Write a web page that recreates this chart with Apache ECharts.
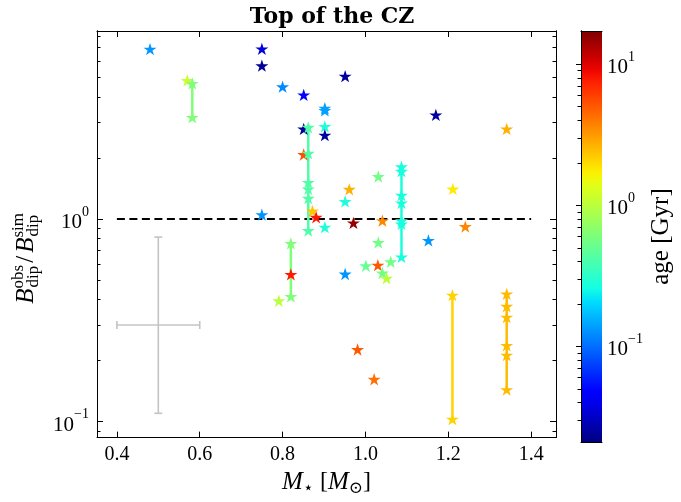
<!DOCTYPE html>
<html>
<head>
<meta charset="utf-8">
<script src="https://cdn.jsdelivr.net/npm/echarts@6/dist/echarts.min.js"></script>
<style>
  html, body { margin: 0; padding: 0; background: #fff; }
  #chart { width: 681px; height: 502px; }
</style>
</head>
<body>
<div id="chart"></div>
<script>
// stars with a single measurement
const massSingle = [0.48, 0.75, 0.75, 0.570, 0.80, 0.851, 0.951, 0.902, 0.902, 0.902, 0.902, 0.851, 0.851,
  1.170, 1.341, 1.031, 0.961, 0.951, 1.211, 0.872, 0.881, 0.75, 0.902, 0.971, 1.041, 1.241, 1.152,
  1.031, 0.82, 0.791, 1.001, 1.030, 1.061, 1.041, 1.051, 0.951, 0.981, 1.021]
const ratioSingle = [6.88, 6.9, 5.70, 4.82, 4.49, 4.09, 5.06, 3.52, 3.43, 2.86, 2.59, 2.78, 2.08,
  3.26, 2.78, 1.62, 1.40, 1.22, 1.406, 1.094, 1.02, 1.05, 0.911, 0.956, 0.981, 0.917, 0.784,
  0.766, 0.533, 0.395, 0.588, 0.592, 0.615, 0.541, 0.510, 0.535, 0.227, 0.162]
const ageSingle = [0.13, 0.035, 0.024, 1.1, 0.12, 0.05, 0.025, 0.14, 0.14, 0.28, 0.025, 0.025, 5.3,
  0.025, 2.7, 0.55, 2.7, 0.28, 1.8, 2.3, 8, 0.13, 0.28, 15, 3.6, 3.6, 0.13,
  0.55, 8, 1.0, 0.5, 5.0, 0.55, 0.55, 1.0, 0.13, 5.0, 4.3]

// stars with several measurements, joined by a line
const massGroup = [0.582, 0.820, 0.862, 1.087, 1.21, 1.341]
const ageGroup = [0.62, 0.62, 0.42, 0.27, 2.1, 2.5]
const ratioGroup = [
  [4.66, 3.17],
  [0.758, 0.415],
  [2.83, 2.11, 1.515, 1.406, 1.266, 0.877],
  [1.81, 1.72, 1.31, 1.20, 0.98, 0.945, 0.65],
  [0.421, 0.103],
  [0.427, 0.371, 0.328, 0.238, 0.213, 0.144]
]

// typical error bar
const errCentre = [0.5, 0.3]
const errMass = [0.4, 0.6]
const errRatio = [0.11, 0.814]

// reference line B_obs / B_sim = 1
const refMass = [0.4, 1.4]
const refRatio = [1, 1]

// axes
const xRange = [0.352, 1.46]
const yRange = [0.0835, 8.45]
const xTicks = [0.4, 0.6, 0.8, 1.0, 1.2, 1.4]
const yTicks = [0.1, 1]
const yMinor = [0.09, 0.2, 0.3, 0.4, 0.5, 0.6, 0.7, 0.8, 0.9, 2, 3, 4, 5, 6, 7, 8]
const ageRange = [0.021, 17.2]
const cbTicks = [0.1, 1, 10]
const cbMinor = [0.03, 0.04, 0.05, 0.06, 0.07, 0.08, 0.09, 0.2, 0.3, 0.4, 0.5, 0.6, 0.7, 0.8, 0.9,
  2, 3, 4, 5, 6, 7, 8, 9]

const FONT = 'Liberation Serif, DejaVu Serif, serif'
const STAR = 'path://M50,0L61.23,34.55L97.55,34.55L68.17,55.9L79.39,90.45L50,69.1L20.61,90.45L31.83,55.9L2.45,34.55L38.77,34.55Z'

// matplotlib 'jet'
function interp(f, xs, ys) {
  for (let i = 1; i < xs.length; i++) {
    if (f <= xs[i]) {
      return ys[i - 1] + (ys[i] - ys[i - 1]) * (f - xs[i - 1]) / (xs[i] - xs[i - 1])
    }
  }
  return ys[ys.length - 1]
}
function jet(f) {
  f = Math.max(0, Math.min(1, f))
  const r = interp(f, [0, 0.35, 0.66, 0.89, 1], [0, 0, 1, 1, 0.5])
  const g = interp(f, [0, 0.125, 0.375, 0.64, 0.91, 1], [0, 0, 1, 1, 0, 0])
  const b = interp(f, [0, 0.11, 0.34, 0.65, 1], [0.5, 1, 1, 0, 0])
  return 'rgb(' + Math.round(r * 255) + ',' + Math.round(g * 255) + ',' + Math.round(b * 255) + ')'
}
function ageColor(age) {
  const lo = Math.log10(ageRange[0])
  const hi = Math.log10(ageRange[1])
  return jet((Math.log10(age) - lo) / (hi - lo))
}

function powLabel(v) {
  const e = Math.round(Math.log10(v))
  return '{b|10}{e|' + (e < 0 ? '\u2212' + (-e) : e) + '}'
}
const powRich = {
  b: { fontFamily: FONT, fontSize: 21, color: '#000', lineHeight: 28, verticalAlign: 'bottom' },
  e: { fontFamily: FONT, fontSize: 14, color: '#000', lineHeight: 14, verticalAlign: 'top' }
}

// scatter points
const stars = []
for (let i = 0; i < massSingle.length; i++) {
  stars.push({ value: [massSingle[i], ratioSingle[i]], itemStyle: { color: ageColor(ageSingle[i]) } })
}
const groupLines = []
for (let i = 0; i < massGroup.length; i++) {
  const col = ageColor(ageGroup[i])
  const pts = ratioGroup[i].map(function (r) { return [massGroup[i], r] })
  groupLines.push({
    type: 'line',
    data: pts,
    symbol: 'none',
    z: 2,
    lineStyle: { color: col, width: 2.5 },
    silent: true
  })
  pts.forEach(function (p) {
    stars.push({ value: p, itemStyle: { color: col } })
  })
}

// colour bar gradient
const cbStops = []
for (let i = 0; i <= 32; i++) {
  cbStops.push({ offset: i / 32, color: jet(i / 32) })
}

const axisLineBlack = { show: true, lineStyle: { color: '#000', width: 1 } }

function mainY(position, ticks, len, labels) {
  return {
    type: 'log', gridIndex: 0, position: position, min: yRange[0], max: yRange[1],
    axisLine: axisLineBlack,
    axisTick: { show: true, inside: true, length: len, customValues: ticks, lineStyle: { color: '#000' } },
    axisLabel: labels ? { show: true, customValues: ticks, formatter: powLabel, rich: powRich, margin: 8 } : { show: false },
    splitLine: { show: false }
  }
}
function mainX(position, labels) {
  return {
    type: 'value', gridIndex: 0, position: position, min: xRange[0], max: xRange[1],
    axisLine: axisLineBlack,
    axisTick: { show: true, inside: true, length: 6, customValues: xTicks, lineStyle: { color: '#000' } },
    axisLabel: labels ? {
      show: true, customValues: xTicks, formatter: function (v) { return v.toFixed(1) },
      fontFamily: FONT, fontSize: 20, color: '#000', margin: 7
    } : { show: false },
    splitLine: { show: false }
  }
}

const chart = echarts.init(document.getElementById('chart'))
const yLeft = mainY('left', yTicks, 6, true)
// sup gets a 1px box so the subscript sits right under it
yLeft.name = '{it|B}{sup|obs}{sub|dip}{n|/}{it|B}{sup|sim}{sub|dip}'
yLeft.nameLocation = 'middle'
yLeft.nameRotate = 90
yLeft.nameGap = 42
yLeft.nameTextStyle = {
  padding: [0, 50, 0, 0],
  rich: {
    it: { fontFamily: FONT, fontStyle: 'italic', fontSize: 25, color: '#000', lineHeight: 32, verticalAlign: 'middle', align: 'left' },
    n: { fontFamily: FONT, fontSize: 25, color: '#000', lineHeight: 32, verticalAlign: 'middle', padding: [0, 3, 0, 3], align: 'left' },
    sup: { fontFamily: FONT, fontSize: 17, color: '#000', lineHeight: 16, verticalAlign: 'top', width: 1, align: 'left' },
    sub: { fontFamily: FONT, fontSize: 17, color: '#000', lineHeight: 16, verticalAlign: 'bottom', align: 'left' }
  }
}
const xBottom = mainX('bottom', true)
xBottom.name = '{it|M}{sub|\u22c6} [{it|M}{sub|\u2299}]'
xBottom.nameLocation = 'middle'
xBottom.nameGap = 29
xBottom.nameTextStyle = {
  fontFamily: FONT, fontSize: 24, color: '#000',
  rich: {
    it: { fontFamily: FONT, fontStyle: 'italic', fontSize: 25, color: '#000', lineHeight: 30, verticalAlign: 'middle' },
    sub: { fontFamily: FONT, fontSize: 17, color: '#000', lineHeight: 14, verticalAlign: 'bottom' }
  }
}

const option = {
  animation: false,
  backgroundColor: '#fff',
  title: {
    text: 'Top of the CZ',
    left: 327,
    textAlign: 'center',
    top: 1,
    textStyle: { fontFamily: 'DejaVu Serif, serif', fontWeight: 'bold', fontSize: 22, color: '#000' }
  },
  grid: [
    { left: 97, right: 125, top: 31, bottom: 60 },
    { left: 581, width: 21, top: 31, bottom: 60 }
  ],
  xAxis: [
    xBottom,
    mainX('top', false),
    { type: 'value', gridIndex: 1, position: 'bottom', min: 0, max: 1, z: 5, axisLine: axisLineBlack, axisTick: { show: false }, axisLabel: { show: false }, splitLine: { show: false } },
    { type: 'value', gridIndex: 1, position: 'top', min: 0, max: 1, z: 5, axisLine: axisLineBlack, axisTick: { show: false }, axisLabel: { show: false }, splitLine: { show: false } }
  ],
  yAxis: [
    yLeft,
    mainY('left', yMinor, 3.5, false),
    mainY('right', yTicks, 6, false),
    mainY('right', yMinor, 3.5, false),
    {
      type: 'log', gridIndex: 1, position: 'right', min: ageRange[0], max: ageRange[1], z: 5,
      axisLine: axisLineBlack,
      axisTick: { show: true, inside: true, length: 5, customValues: cbTicks, lineStyle: { color: '#000' } },
      axisLabel: { show: true, customValues: cbTicks, formatter: powLabel, rich: powRich, margin: 5 },
      splitLine: { show: false },
      name: 'age [Gyr]', nameLocation: 'middle', nameRotate: 90, nameGap: 47,
      nameTextStyle: { fontFamily: FONT, fontSize: 25, color: '#000' }
    },
    {
      type: 'log', gridIndex: 1, position: 'right', min: ageRange[0], max: ageRange[1], z: 5,
      axisLine: { show: false },
      axisTick: { show: true, inside: true, length: 3.5, customValues: cbMinor, lineStyle: { color: '#000' } },
      axisLabel: { show: false }, splitLine: { show: false }
    },
    {
      type: 'log', gridIndex: 1, position: 'left', min: ageRange[0], max: ageRange[1], z: 5,
      axisLine: axisLineBlack, axisTick: { show: false }, axisLabel: { show: false }, splitLine: { show: false }
    }
  ],
  series: [
    {
      type: 'custom',
      xAxisIndex: 0, yAxisIndex: 0,
      silent: true,
      z: 1,
      data: [[errCentre[0], errCentre[1], errMass[0], errMass[1], errRatio[0], errRatio[1]]],
      renderItem: function (params, api) {
        const xl = api.coord([api.value(2), api.value(1)])
        const xr = api.coord([api.value(3), api.value(1)])
        const yb = api.coord([api.value(0), api.value(4)])
        const yt = api.coord([api.value(0), api.value(5)])
        const style = { stroke: '#c4c4c4', lineWidth: 1.6 }
        const cap = 4
        return {
          type: 'group',
          children: [
            { type: 'line', shape: { x1: xl[0], y1: xl[1], x2: xr[0], y2: xr[1] }, style: style },
            { type: 'line', shape: { x1: yb[0], y1: yb[1], x2: yt[0], y2: yt[1] }, style: style },
            { type: 'line', shape: { x1: xl[0], y1: xl[1] - cap, x2: xl[0], y2: xl[1] + cap }, style: style },
            { type: 'line', shape: { x1: xr[0], y1: xr[1] - cap, x2: xr[0], y2: xr[1] + cap }, style: style },
            { type: 'line', shape: { x1: yb[0] - cap, y1: yb[1], x2: yb[0] + cap, y2: yb[1] }, style: style },
            { type: 'line', shape: { x1: yt[0] - cap, y1: yt[1], x2: yt[0] + cap, y2: yt[1] }, style: style }
          ]
        }
      }
    },
    {
      type: 'line',
      data: [[refMass[0], refRatio[0]], [refMass[1], refRatio[1]]],
      symbol: 'none',
      silent: true,
      z: 2,
      lineStyle: { color: '#000', width: 2, type: [8, 4.5] }
    }
  ].concat(groupLines).concat([
    {
      type: 'scatter',
      data: stars,
      symbol: STAR,
      symbolSize: 13,
      symbolKeepAspect: true,
      itemStyle: { opacity: 1 },
      z: 3
    },
    {
      type: 'custom',
      xAxisIndex: 2, yAxisIndex: 4,
      silent: true,
      data: [[0, ageRange[0], 1, ageRange[1]]],
      renderItem: function (params, api) {
        const p0 = api.coord([api.value(0), api.value(1)])
        const p1 = api.coord([api.value(2), api.value(3)])
        return {
          type: 'rect',
          shape: { x: p0[0], y: p1[1], width: p1[0] - p0[0], height: p0[1] - p1[1] },
          style: { fill: new echarts.graphic.LinearGradient(0, 1, 0, 0, cbStops) }
        }
      }
    }
  ])
}
chart.setOption(option)
</script>
</body>
</html>
